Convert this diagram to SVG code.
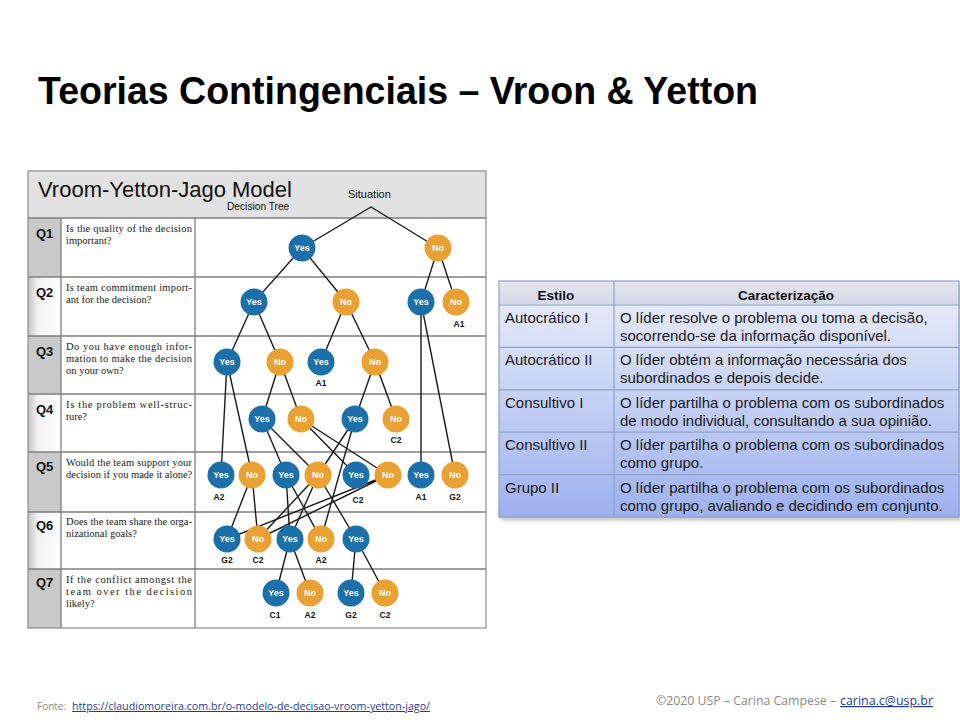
<svg xmlns="http://www.w3.org/2000/svg" width="960" height="720" viewBox="0 0 960 720">
<defs>
<style>
.title{font-family:"Liberation Sans",Arial,sans-serif;font-weight:bold;font-size:38px;fill:#000}
.hd{font-family:"Liberation Sans",Arial,sans-serif;fill:#111}
.ql{font-family:"Liberation Sans",Arial,sans-serif;font-weight:bold;font-size:13px;fill:#111}
.qt{font-family:"Liberation Serif","Times New Roman",serif;font-size:10.5px;fill:#222}
.grid{stroke:#7f7f7f;stroke-width:1.3;fill:none}
.edge{stroke:#1a1a1a;stroke-width:1.4;fill:none;stroke-linecap:round}
.y{fill:#1b70aa}
.n{fill:#e9a133}
.t{font-family:"Liberation Sans",Arial,sans-serif;font-weight:bold;font-size:9px;fill:#fff;text-anchor:middle}
.o{font-family:"Liberation Sans",Arial,sans-serif;font-weight:bold;font-size:8.5px;fill:#111;text-anchor:middle}
.tb{font-family:"Liberation Sans",Arial,sans-serif;font-size:15px;fill:#1a1a1a}
.th{font-family:"Liberation Sans",Arial,sans-serif;font-size:13.5px;font-weight:bold;fill:#111;text-anchor:middle}
.tl{stroke:#8ea2c6;stroke-width:1.2}
.ft{font-family:"Open Sans","Liberation Sans",sans-serif;fill:#8a8a8a}
.lk{font-family:"Open Sans","Liberation Sans",sans-serif;fill:#1f3a9a;text-decoration:underline}
</style>
<linearGradient id="tbg" x1="0" y1="0" x2="0" y2="1">
<stop offset="0" stop-color="#eceff9"/>
<stop offset="1" stop-color="#9db1ef"/>
</linearGradient>
<linearGradient id="thg" x1="0" y1="0" x2="0" y2="1">
<stop offset="0" stop-color="#e4e7ef"/>
<stop offset="1" stop-color="#d2d8e6"/>
</linearGradient>
<linearGradient id="qeven" x1="0" y1="0" x2="1" y2="0">
<stop offset="0" stop-color="#c6c6c6"/>
<stop offset="0.3" stop-color="#f2f2f2"/>
<stop offset="1" stop-color="#ffffff"/>
</linearGradient>
<filter id="sh" x="-5%" y="-5%" width="110%" height="110%">
<feGaussianBlur stdDeviation="2"/>
</filter>
</defs>

<rect x="0" y="0" width="960" height="720" fill="#ffffff"/>

<text class="title" x="38" y="104" textLength="720" lengthAdjust="spacingAndGlyphs">Teorias Contingenciais – Vroon &amp; Yetton</text>

<!-- Decision tree panel -->
<g id="tree-panel">
<rect x="28" y="171" width="458" height="457" fill="#ffffff"/>
<rect x="28" y="171" width="458" height="47" fill="#e2e2e2"/>
<rect x="28" y="218" width="33" height="59" fill="#c9c9c9"/>
<rect x="28" y="277" width="33" height="59" fill="url(#qeven)"/>
<rect x="28" y="336" width="33" height="58" fill="#c9c9c9"/>
<rect x="28" y="394" width="33" height="58" fill="url(#qeven)"/>
<rect x="28" y="452" width="33" height="60" fill="#c9c9c9"/>
<rect x="28" y="512" width="33" height="57" fill="url(#qeven)"/>
<rect x="28" y="569" width="33" height="59" fill="#c9c9c9"/>
<path class="grid" d="M28 218H486M28 277H486M28 336H486M28 394H486M28 452H486M28 512H486M28 569H486M61 218V628M195 218V628"/>
<rect x="28" y="171" width="458" height="457" fill="none" stroke="#8a8a8a" stroke-width="1.2"/>
<text class="hd" x="38" y="197" font-size="22">Vroom-Yetton-Jago Model</text>
<text class="hd" x="227" y="210" font-size="10.2">Decision Tree</text>
</g>

<g id="questions">
<g id="row-q1"><text class="ql" x="36" y="238">Q1</text>
<text class="qt" x="66" y="232" textLength="126" lengthAdjust="spacing">Is the quality of the decision</text>
<text class="qt" x="66" y="244">important?</text></g>
<g id="row-q2"><text class="ql" x="36" y="297">Q2</text>
<text class="qt" x="66" y="291" textLength="126" lengthAdjust="spacing">Is team commitment import-</text>
<text class="qt" x="66" y="303">ant for the decision?</text></g>
<g id="row-q3"><text class="ql" x="36" y="356">Q3</text>
<text class="qt" x="66" y="350" textLength="126" lengthAdjust="spacing">Do you have enough infor-</text>
<text class="qt" x="66" y="362" textLength="126" lengthAdjust="spacing">mation to make the decision</text>
<text class="qt" x="66" y="374">on your own?</text></g>
<g id="row-q4"><text class="ql" x="36" y="414">Q4</text>
<text class="qt" x="66" y="408" textLength="126" lengthAdjust="spacing">Is the problem well-struc-</text>
<text class="qt" x="66" y="420">ture?</text></g>
<g id="row-q5"><text class="ql" x="36" y="471">Q5</text>
<text class="qt" x="66" y="466" textLength="126" lengthAdjust="spacing">Would the team support your</text>
<text class="qt" x="66" y="478">decision if you made it alone?</text></g>
<g id="row-q6"><text class="ql" x="36" y="530">Q6</text>
<text class="qt" x="66" y="525" textLength="126" lengthAdjust="spacing">Does the team share the orga-</text>
<text class="qt" x="66" y="537">nizational goals?</text></g>
<g id="row-q7"><text class="ql" x="36" y="587">Q7</text>
<text class="qt" x="66" y="583" textLength="126" lengthAdjust="spacing">If the conflict amongst the</text>
<text class="qt" x="66" y="595" textLength="126" lengthAdjust="spacing">team over the decision</text>
<text class="qt" x="66" y="607">likely?</text></g>
</g>

<!-- connectors -->
<g id="connectors" class="edge">
<path d="M371 207L302 248M371 207L438 248"/>
<path d="M302 248L254 302M302 248L346 302"/>
<path d="M438 248L421 302M438 248L456 302"/>
<path d="M254 302L227 362M254 302L280 362"/>
<path d="M346 302L321 362M346 302L375 362"/>
<path d="M421 302L421 475M421 302L455 475"/>
<path d="M227 362L221 475M227 362L252 475"/>
<path d="M280 362L262 419M280 362L301 419"/>
<path d="M375 362L355 419M375 362L396 419"/>
<path d="M262 419L286 475M262 419L318 475"/>
<path d="M301 419L356 475M301 419L388 475"/>
<path d="M355 419L318 475M355 419L321 539"/>
<path d="M252 475L227 539M252 475L258 539"/>
<path d="M286 475L290 539M286 475L321 539"/>
<path d="M318 475L258 539M318 475L290 539M318 475L356 539"/>
<path d="M388 475L227 539M388 475L258 539"/>
<path d="M290 539L276 593M290 539L310 593"/>
<path d="M356 539L351 593M356 539L385 593"/>
</g>

<!-- nodes -->
<g id="situation"><text class="hd" x="348" y="198" font-size="11">Situation</text></g>
<g id="q1-yes"><circle class="y" cx="302" cy="248" r="13.5"/><text class="t" x="302" y="251">Yes</text></g>
<g id="q1-no"><circle class="n" cx="438" cy="248" r="13.5"/><text class="t" x="438" y="251">No</text></g>

<g id="q2-yes-a"><circle class="y" cx="254" cy="302" r="13.5"/><text class="t" x="254" y="305">Yes</text></g>
<g id="q2-no-b"><circle class="n" cx="346" cy="302" r="13.5"/><text class="t" x="346" y="305">No</text></g>
<g id="q2-yes-c"><circle class="y" cx="421" cy="302" r="13.5"/><text class="t" x="421" y="305">Yes</text></g>
<g id="q2-no-d"><circle class="n" cx="456" cy="302" r="13.5"/><text class="t" x="456" y="305">No</text><text class="o" x="459" y="327">A1</text></g>

<g id="q3-yes-a"><circle class="y" cx="227" cy="362" r="13.5"/><text class="t" x="227" y="365">Yes</text></g>
<g id="q3-no-b"><circle class="n" cx="280" cy="362" r="13.5"/><text class="t" x="280" y="365">No</text></g>
<g id="q3-yes-c"><circle class="y" cx="321" cy="362" r="13.5"/><text class="t" x="321" y="365">Yes</text><text class="o" x="321" y="386">A1</text></g>
<g id="q3-no-d"><circle class="n" cx="375" cy="362" r="13.5"/><text class="t" x="375" y="365">No</text></g>

<g id="q4-yes-a"><circle class="y" cx="262" cy="419" r="13.5"/><text class="t" x="262" y="422">Yes</text></g>
<g id="q4-no-b"><circle class="n" cx="301" cy="419" r="13.5"/><text class="t" x="301" y="422">No</text></g>
<g id="q4-yes-c"><circle class="y" cx="355" cy="419" r="13.5"/><text class="t" x="355" y="422">Yes</text></g>
<g id="q4-no-d"><circle class="n" cx="396" cy="419" r="13.5"/><text class="t" x="396" y="422">No</text><text class="o" x="396" y="443">C2</text></g>

<g id="q5-yes-a"><circle class="y" cx="221" cy="475" r="13.5"/><text class="t" x="221" y="478">Yes</text><text class="o" x="219" y="500">A2</text></g>
<g id="q5-no-b"><circle class="n" cx="252" cy="475" r="13.5"/><text class="t" x="252" y="478">No</text></g>
<g id="q5-yes-c"><circle class="y" cx="286" cy="475" r="13.5"/><text class="t" x="286" y="478">Yes</text></g>
<g id="q5-no-d"><circle class="n" cx="318" cy="475" r="13.5"/><text class="t" x="318" y="478">No</text></g>
<g id="q5-yes-e"><circle class="y" cx="356" cy="475" r="13.5"/><text class="t" x="356" y="478">Yes</text><text class="o" x="358" y="503">C2</text></g>
<g id="q5-no-f"><circle class="n" cx="388" cy="475" r="13.5"/><text class="t" x="388" y="478">No</text></g>
<g id="q5-yes-g"><circle class="y" cx="421" cy="475" r="13.5"/><text class="t" x="421" y="478">Yes</text><text class="o" x="421" y="500">A1</text></g>
<g id="q5-no-h"><circle class="n" cx="455" cy="475" r="13.5"/><text class="t" x="455" y="478">No</text><text class="o" x="455" y="500">G2</text></g>

<g id="q6-yes-a"><circle class="y" cx="227" cy="539" r="13.5"/><text class="t" x="227" y="542">Yes</text><text class="o" x="227" y="563">G2</text></g>
<g id="q6-no-b"><circle class="n" cx="258" cy="539" r="13.5"/><text class="t" x="258" y="542">No</text><text class="o" x="258" y="563">C2</text></g>
<g id="q6-yes-c"><circle class="y" cx="290" cy="539" r="13.5"/><text class="t" x="290" y="542">Yes</text></g>
<g id="q6-no-d"><circle class="n" cx="321" cy="539" r="13.5"/><text class="t" x="321" y="542">No</text><text class="o" x="321" y="563">A2</text></g>
<g id="q6-yes-e"><circle class="y" cx="356" cy="539" r="13.5"/><text class="t" x="356" y="542">Yes</text></g>

<g id="q7-yes-a"><circle class="y" cx="276" cy="593" r="13.5"/><text class="t" x="276" y="596">Yes</text><text class="o" x="275" y="618">C1</text></g>
<g id="q7-no-b"><circle class="n" cx="310" cy="593" r="13.5"/><text class="t" x="310" y="596">No</text><text class="o" x="310" y="618">A2</text></g>
<g id="q7-yes-c"><circle class="y" cx="351" cy="593" r="13.5"/><text class="t" x="351" y="596">Yes</text><text class="o" x="351" y="618">G2</text></g>
<g id="q7-no-d"><circle class="n" cx="385" cy="593" r="13.5"/><text class="t" x="385" y="596">No</text><text class="o" x="385" y="618">C2</text></g>

<!-- styles table -->
<g id="styles-table">
<rect x="501" y="284" width="461" height="236" fill="#9a9a9a" filter="url(#sh)" opacity="0.7"/>
<rect x="499" y="281" width="460" height="236" fill="url(#tbg)"/>
<rect x="499" y="281" width="460" height="24" fill="url(#thg)"/>
<g class="tl">
<path d="M499 305H959M499 347.4H959M499 389.8H959M499 432.2H959M499 474.6H959M614 281V517"/>
<rect x="499" y="281" width="460" height="236" fill="none"/>
</g>
<text class="th" x="556" y="300">Estilo</text>
<text class="th" x="786" y="300">Caracterização</text>

<text class="tb" x="505" y="323">Autocrático I</text>
<text class="tb" x="620" y="323">O líder resolve o problema ou toma a decisão,</text>
<text class="tb" x="620" y="341">socorrendo-se da informação disponível.</text>

<text class="tb" x="505" y="365.4">Autocrático II</text>
<text class="tb" x="620" y="365.4">O líder obtém a informação necessária dos</text>
<text class="tb" x="620" y="383.4">subordinados e depois decide.</text>

<text class="tb" x="505" y="407.8">Consultivo I</text>
<text class="tb" x="620" y="407.8">O líder partilha o problema com os subordinados</text>
<text class="tb" x="620" y="425.8">de modo individual, consultando a sua opinião.</text>

<text class="tb" x="505" y="450.2">Consultivo II</text>
<text class="tb" x="620" y="450.2">O líder partilha o problema com os subordinados</text>
<text class="tb" x="620" y="468.2">como grupo.</text>

<text class="tb" x="505" y="492.6">Grupo II</text>
<text class="tb" x="620" y="492.6">O líder partilha o problema com os subordinados</text>
<text class="tb" x="620" y="510.6">como grupo, avaliando e decidindo em conjunto.</text>
</g>

<!-- footer -->
<g id="footer">
<text class="ft" x="37" y="710" font-size="10">Fonte: </text>
<text class="lk" x="72" y="710" font-size="10" textLength="358" lengthAdjust="spacingAndGlyphs">https://claudiomoreira.com.br/o-modelo-de-decisao-vroom-yetton-jago/</text>
<text class="ft" x="656" y="705" font-size="12" textLength="180" lengthAdjust="spacingAndGlyphs">©2020 USP – Carina Campese – </text>
<text class="lk" x="840" y="705" font-size="12" textLength="93" lengthAdjust="spacingAndGlyphs">carina.c@usp.br</text>
</g>
</svg>
